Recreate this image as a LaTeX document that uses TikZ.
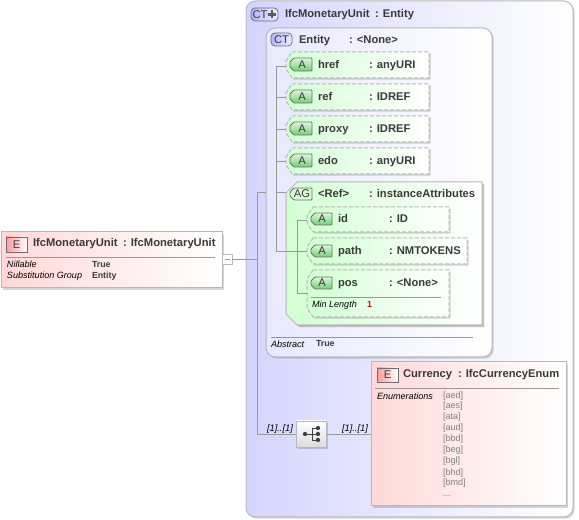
\documentclass[tikz,border=0pt]{standalone}
\usepackage{fontspec}
\setmainfont{Liberation Sans}
\usetikzlibrary{shadows}
\definecolor{bordgrey}{HTML}{B8B8B8}
\definecolor{linegrey}{HTML}{999999}
\definecolor{ctblue}{HTML}{D4D4FF}
\definecolor{attgreen}{HTML}{D2FFD2}
\definecolor{elemred}{HTML}{FFD8D8}
\definecolor{txtcol}{HTML}{3A3A3A}
\definecolor{badgeedge}{HTML}{6E6E6E}
\definecolor{badgegreen}{HTML}{74CE74}
\definecolor{badgepale}{HTML}{DAF8DA}
\newcommand\pbox[6]{%
  \pgfmathsetmacro\pbw{(#4-#2)*0.75}\pgfmathsetmacro\pbh{(#5-#3)*0.75}%
  \node[#6,minimum width=\pbw pt,minimum height=\pbh pt] (#1) at ({(#2+#4)/2},{(#3+#5)/2}) {};}
\newcommand\chambox[8]{%
  \path[#8] ({#2+#6},#3) -- (#4,#3) -- (#4,#5) -- ({#2+#6},#5) -- (#2,{#5-#7}) -- (#2,{#3+#7}) -- cycle;%
  \pbox{#1}{#2}{#3}{#4}{#5}{base}}
\tikzset{
  x=0.75pt,y=-0.75pt,
  base/.style={inner sep=0pt,outer sep=0pt},
  softshadow/.style={drop shadow={shadow xshift=1.3pt,shadow yshift=-1.3pt,fill=black,opacity=0.16}},
  ctouter/.style={base,draw=bordgrey,line width=0.75pt,rounded corners=7pt,left color=ctblue,right color=white,softshadow},
  ctinner/.style={base,draw=bordgrey,line width=0.75pt,rounded corners=7pt,left color=ctblue!55,right color=white,softshadow},
  attbox/.style={draw=bordgrey,dash pattern=on 3pt off 1.5pt,line width=0.75pt,left color=attgreen,right color=white,softshadow},
  agbox/.style={draw=bordgrey,line width=0.75pt,left color=attgreen,right color=white,drop shadow={shadow xshift=1.6pt,shadow yshift=-1.6pt,fill=black!40,opacity=0.6}},
  elembox/.style={base,draw=bordgrey,line width=0.75pt,left color=elemred,right color=white,softshadow},
  exppm/.style={base,draw=bordgrey,line width=0.6pt,fill=white},
  seqbox/.style={base,draw=bordgrey,line width=0.6pt,top color=white,bottom color=black!14,softshadow},
  ebadge/.style={base,draw=badgeedge,line width=0.6pt,left color=red!40,right color=white},
  ctbadge/.style={base,draw=badgeedge,line width=0.6pt,rounded corners=3pt,left color=ctblue!85!blue,right color=ctblue!40},
  abadge/.style={draw=badgeedge,line width=0.6pt,rounded corners=0.6pt,top color=badgepale,bottom color=badgegreen},
  agbadge/.style={draw=badgeedge,line width=0.6pt,rounded corners=0.6pt,fill=badgepale},
  conn/.style={draw=linegrey,line width=0.6pt},
  divider/.style={draw=linegrey,line width=0.6pt},
  seqline/.style={draw=black!75,line width=0.7pt},
  tbadge/.style={base,text=txtcol,font=\fontsize{8.4pt}{8.4pt}\selectfont},
  tname/.style={base,anchor=base west,text=txtcol,font=\fontsize{8.4pt}{9pt}\selectfont\bfseries},
  tprop/.style={base,anchor=base west,text=black,font=\fontsize{6.8pt}{7pt}\selectfont\itshape},
  tval/.style={base,anchor=base west,text=txtcol,font=\fontsize{6.6pt}{7pt}\selectfont\bfseries},
  tenum/.style={base,anchor=base west,text=black!50,font=\fontsize{6.8pt}{7pt}\selectfont},
  tmult/.style={base,anchor=base west,text=black,font=\fontsize{7pt}{7pt}\selectfont\itshape},
  seqdot/.style={base,circle,fill=black!75,minimum size=3.2pt},
}
\begin{document}
\begin{tikzpicture}
\useasboundingbox (0,0) rectangle (579,520);
% boxes
\pbox{elem}{1}{232}{222}{288}{elembox}
\pbox{outer}{246}{1}{573}{517}{ctouter}
\pbox{entity}{266}{28}{492}{357}{ctinner}
\chambox{href}{286}{52}{429}{78}{6}{9}{attbox}
\chambox{ref}{286}{84}{429}{110}{6}{9}{attbox}
\chambox{proxy}{286}{116}{429}{142}{6}{9}{attbox}
\chambox{edo}{286}{148}{429}{174}{6}{9}{attbox}
\chambox{ag}{286}{182}{482}{325}{11}{11}{agbox}
\chambox{id}{307}{207}{449}{232}{6}{9}{attbox}
\chambox{path}{307}{238}{467}{264}{6}{9}{attbox}
\chambox{pos}{307}{270}{449}{317}{6}{9}{attbox}
\pbox{curr}{371}{362}{566}{506}{elembox}
\pbox{seq}{296}{421}{326}{447}{seqbox}
\pbox{expand}{222}{254}{232}{264}{exppm}
% connectors
\coordinate (trunkO) at (257,192);
\coordinate (trunkE) at (276,66);
\coordinate (trunkG) at (297,220);
\draw[conn] (expand.east) -- (trunkO |- expand.east);
\draw[conn] (trunkO) -- (trunkO |- seq.west) -- (seq.west);
\draw[conn] (trunkO) -- (trunkO -| entity.west);
\draw[conn] (seq.east) -- (curr.west |- seq.east);
\draw[conn] (trunkE) -- (trunkE |- path.west) -- (path.west);
\draw[conn] (trunkE) -- (trunkE -| href.west);
\draw[conn] (trunkE |- ref.west) -- (ref.west);
\draw[conn] (trunkE |- proxy.west) -- (proxy.west);
\draw[conn] (trunkE |- edo.west) -- (edo.west);
\coordinate (agin) at (286,192);
\draw[conn] (trunkE |- agin) -- (agin);
\draw[conn] (trunkG) -- (trunkG -| id.west);
\coordinate (posend) at (307,293);
\draw[conn] (trunkG) -- (trunkG |- posend) -- (posend);
% element
\pbox{ebadge1}{6}{237}{27}{252}{ebadge}
\node[tbadge] (e1) at (ebadge1) {E};
\node[tname] (n1) at (33,247) {IfcMonetaryUnit};
\node[tname] (n2) at (123,247) {: IfcMonetaryUnit};
\coordinate (d1a) at (6,257); \coordinate (d1b) at (215,257);
\draw[divider] (d1a) -- (d1b);
\node[tprop] (p1) at (7,268) {Nillable};
\node[tval] (v1) at (92,268) {True};
\node[tprop] (p2) at (7,279) {Substitution Group};
\node[tval] (v2) at (92,279) {Entity};
\coordinate (em1) at (224.5,259); \coordinate (em2) at (229.5,259);
\draw[conn] (em1) -- (em2);
% outer header
\pbox{ctb1}{251}{8}{278}{21}{ctbadge}
\node[tbadge] (ct1) at (260,14.5) {CT};
\fill[black!65] (268,13.3) rectangle (276,15.7);
\fill[black!65] (270.8,10.5) rectangle (273.2,18.5);
\node[tname] (n3) at (285,18) {IfcMonetaryUnit};
\node[tname] (n4) at (375,18) {: Entity};
% entity
\pbox{ctb2}{271}{33}{292}{46}{ctbadge}
\node[tbadge] (ct2) at (ctb2) {CT};
\node[tname] (n5) at (299,43.7) {Entity};
\node[tname] (n6) at (349,43.7) {: <None>};
% attributes
\chambox{ba1}{290}{58}{312}{71}{4}{4}{abadge}
\node[tbadge] (ta1) at (302,64.5) {A};
\node[tname] (a1) at (318,69) {href};\node[tname] (a1t) at (369,69) {: anyURI};
\chambox{ba2}{290}{90}{312}{103}{4}{4}{abadge}
\node[tbadge] (ta2) at (302,96.5) {A};
\node[tname] (a2) at (318,101) {ref};\node[tname] (a2t) at (369,101) {: IDREF};
\chambox{ba3}{290}{122}{312}{135}{4}{4}{abadge}
\node[tbadge] (ta3) at (302,128.5) {A};
\node[tname] (a3) at (318,133) {proxy};\node[tname] (a3t) at (369,133) {: IDREF};
\chambox{ba4}{290}{154}{312}{167}{4}{4}{abadge}
\node[tbadge] (ta4) at (302,160.5) {A};
\node[tname] (a4) at (318,165) {edo};\node[tname] (a4t) at (369,165) {: anyURI};
% AG
\chambox{bag}{290}{188}{312}{200}{4}{4}{agbadge}
\node[tbadge] (tag) at (302,194) {AG};
\node[tname] (g1) at (318,198) {<Ref>};\node[tname] (g1t) at (369,198) {: instanceAttributes};
\chambox{bb1}{311}{213}{332}{225}{4}{4}{abadge}
\node[tbadge] (tb1) at (322,219) {A};
\node[tname] (b1) at (338,223) {id};\node[tname] (b1t) at (389,223) {: ID};
\chambox{bb2}{311}{245}{332}{257}{4}{4}{abadge}
\node[tbadge] (tb2) at (322,251) {A};
\node[tname] (b2) at (338,255) {path};\node[tname] (b2t) at (389,255) {: NMTOKENS};
\chambox{bb3}{311}{277}{332}{289}{4}{4}{abadge}
\node[tbadge] (tb3) at (322,283) {A};
\node[tname] (b3) at (338,287) {pos};\node[tname] (b3t) at (389,287) {: <None>};
\coordinate (d2a) at (311,297); \coordinate (d2b) at (441,297);
\draw[divider] (d2a) -- (d2b);
\node[tprop] (p3) at (312,308) {Min Length};
\node[tval,text=red!85!black] (v3) at (367,308) {1};
% abstract
\coordinate (d3a) at (271,337); \coordinate (d3b) at (473,337);
\draw[divider] (d3a) -- (d3b);
\node[tprop] (p4) at (271,348) {Abstract};
\node[tval] (v4) at (316,347) {True};
% sequence
\node[tmult] (m1) at (267,432) {[1]..[1]};
\node[tmult] (m2) at (342,432) {[1]..[1]};
\coordinate (sv) at (312,434);
\coordinate (st) at (318,428);
\coordinate (sm) at (318,434);
\coordinate (sb) at (318,440);
\coordinate (sl) at (305,434);
\draw[seqline] (sl) -- (sm);
\draw[seqline] (sv |- st) -- (sv |- sb);
\draw[seqline] (sv |- st) -- (st);
\draw[seqline] (sv |- sb) -- (sb);
\node[seqdot] (s0) at (sl) {};
\node[seqdot] (s1) at (st) {};
\node[seqdot] (s2) at (sm) {};
\node[seqdot] (s3) at (sb) {};
% currency
\pbox{ebadge2}{377}{368}{398}{382}{ebadge}
\node[tbadge] (e2) at (ebadge2) {E};
\node[tname] (c1) at (403,378) {Currency};
\node[tname] (c2) at (458,378) {: IfcCurrencyEnum};
\coordinate (d4a) at (375,388); \coordinate (d4b) at (559,388);
\draw[divider] (d4a) -- (d4b);
\node[tprop] (p5) at (377,400) {Enumerations};
\node[tenum] (q1) at (443,399) {[aed]};
\node[tenum] (q2) at (443,409) {[aes]};
\node[tenum] (q3) at (443,420) {[ata]};
\node[tenum] (q4) at (443,431) {[aud]};
\node[tenum] (q5) at (443,442) {[bbd]};
\node[tenum] (q6) at (443,453) {[beg]};
\node[tenum] (q7) at (443,464) {[bgl]};
\node[tenum] (q8) at (443,475) {[bhd]};
\node[tenum] (q9) at (443,486) {[bmd]};
\node[tenum] (q10) at (443,497) {...};
\end{tikzpicture}
\end{document}
